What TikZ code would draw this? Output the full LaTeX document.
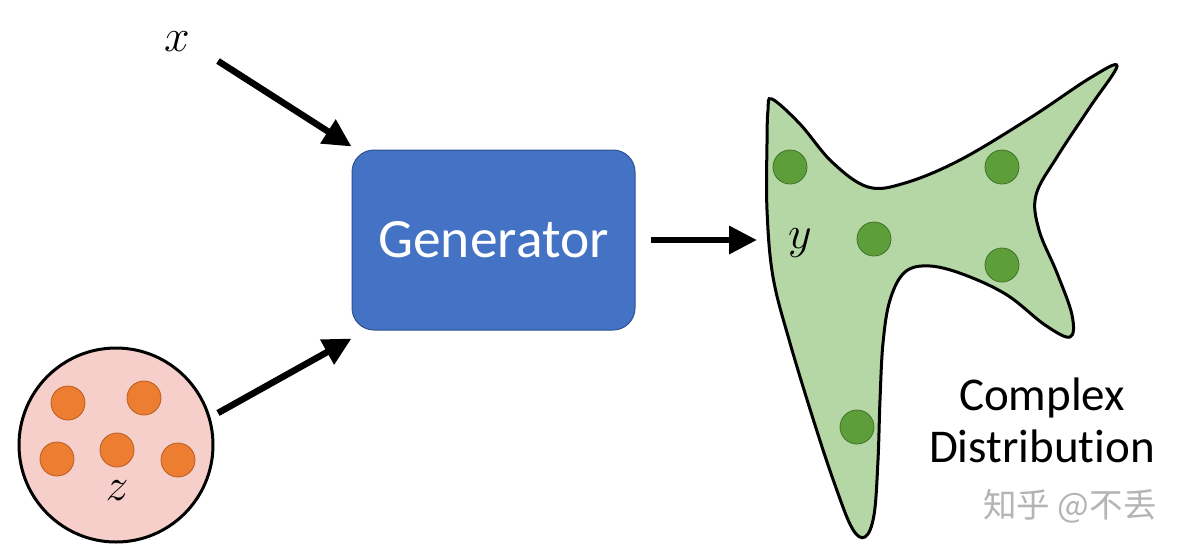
\RequirePackage{fix-cm}
\documentclass[tikz,border=0pt]{standalone}
\usepackage{fontspec}
\setmainfont{Carlito}[Ligatures=NoCommon]
\newfontfamily\cjk{Noto Sans CJK SC}
\usetikzlibrary{arrows.meta}
\definecolor{genblue}{HTML}{4472C4}
\definecolor{genedge}{HTML}{2F528F}
\definecolor{pinkfill}{HTML}{F6CFCB}
\definecolor{orangedot}{HTML}{ED7D31}
\definecolor{orangeedge}{HTML}{B65D22}
\definecolor{greenfill}{HTML}{B5D6A5}
\definecolor{greendot}{HTML}{5E9E3A}
\definecolor{greenedge}{HTML}{3F7228}
\definecolor{wmgray}{HTML}{B4B4B4}
\tikzset{
  bigarrow/.style={line width=6.5pt, -{Triangle[length=28pt,width=27pt]}},
  odot/.style={circle, fill=orangedot, draw=orangeedge, line width=0.8pt, minimum size=34pt, inner sep=0pt},
  gdot/.style={circle, fill=greendot, draw=greenedge, line width=0.8pt, minimum size=34pt, inner sep=0pt},
  mathlbl/.style={font=\fontsize{46}{46}\selectfont, inner sep=0pt},
}
\begin{document}
\begin{tikzpicture}[x=1pt,y=-1pt]
\useasboundingbox[fill=white] (0,0) rectangle (1194,555);
% latent circle
\node[circle, fill=pinkfill, draw=black, line width=3pt, minimum size=194pt, inner sep=0pt] (zc) at (116,445) {};
\node[odot] (o1) at (68,403) {};
\node[odot] (o2) at (144,398) {};
\node[odot] (o3) at (57,459) {};
\node[odot] (o4) at (117,450) {};
\node[odot] (o5) at (178,460) {};
\node[mathlbl] (zl) at (117,491) {$z$};
% x label
\node[mathlbl] (xl) at (177,42) {$x$};
% generator
\node[rectangle, rounded corners=22pt, fill=genblue, draw=genedge, line width=1pt,
      minimum width=283pt, minimum height=180pt, inner sep=0pt,
      text=white, font=\fontsize{55.5}{55.5}\selectfont] (gen) at (493.5,240) {Generator};
% blob
\draw[fill=greenfill, line width=3pt] plot[smooth cycle, tension=0.6] coordinates {
 (772,99) (800,124) (832,162) (868,187) (905,183) (960,160) (1030,118) (1090,78)
 (1117,66) (1090,107) (1057,157) (1036,195) (1039,230) (1057,273) (1072,315)
 (1070,337) (1045,325) (1007,295) (965,275) (930,266) (905,272) (890,300)
 (883,343) (880,400) (878,460) (874,515) (865,537) (852,528) (835,485)
 (815,425) (790,343) (773,277) (767,210) (767,143) (768,110)};
\node[gdot] (g1) at (790,167) {};
\node[gdot] (g2) at (1002,167) {};
\node[gdot] (g3) at (874,239) {};
\node[gdot] (g4) at (1002,265) {};
\node[gdot] (g5) at (857,427) {};
\node[mathlbl] (yl) at (800,243) {$y$};
% arrows
\coordinate (xs) at (218,61);
\coordinate (zs) at (218,413);
\coordinate (yin) at (757,240);
\draw[bigarrow] (xs) -- ([yshift=3pt]gen.north west);
\draw[bigarrow] (zs) -- ([yshift=-8pt]gen.south west);
\draw[bigarrow] ([xshift=15pt]gen.east) -- (yin);
% caption
\node[align=center, font=\fontsize{47}{52}\selectfont, inner sep=0pt] (cd) at (1042,420) {Complex\\Distribution};
\node[font=\cjk\fontsize{33.5}{33.5}\selectfont, text=wmgray, inner sep=0pt] (wm) at (1070,506) {知乎 @不丢};
\end{tikzpicture}
\end{document}
